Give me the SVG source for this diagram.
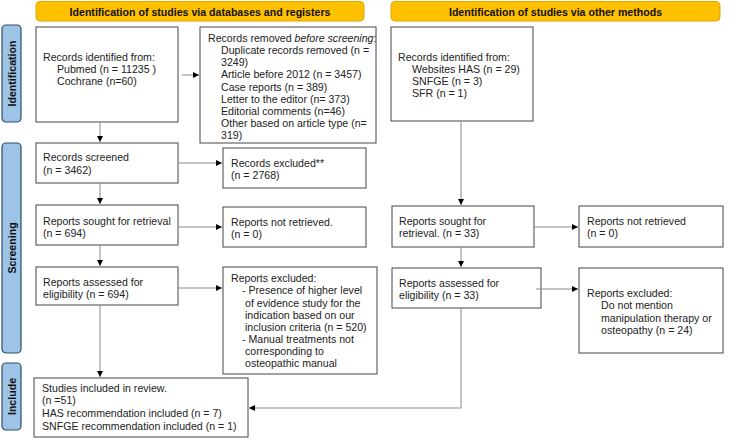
<svg xmlns="http://www.w3.org/2000/svg" width="750" height="440" viewBox="0 0 750 440">
<style>
text{font-family:"Liberation Sans",Arial,sans-serif;font-size:10.6px;fill:#222}
.hdr{fill:#FFC000;stroke:#E3A700;stroke-width:1}
.hdt{font-weight:bold;font-size:10.6px;text-anchor:middle;fill:#111}
.side{fill:#9DC3E6;stroke:#2E4D6B;stroke-width:1.2}
.sdt{font-weight:bold;font-size:10.6px;text-anchor:middle;fill:#111}
.box{fill:#fff;stroke:#444;stroke-width:1}
.con{fill:none;stroke:#8a8a8a;stroke-width:1}
</style>
<defs>
<marker id="ah" markerUnits="userSpaceOnUse" markerWidth="7" markerHeight="7" refX="6" refY="3" orient="auto">
<path d="M0,0 L6,3 L0,6 z" fill="#000"/>
</marker>
</defs>
<rect width="750" height="440" fill="#fff"/>

<g id="header-databases">
<rect class="hdr" x="36" y="1.5" width="328" height="19.5" rx="4"/>
<text class="hdt" x="200" y="16">Identification of studies via databases and registers</text>
</g>
<g id="header-other">
<rect class="hdr" x="391" y="1.5" width="329" height="19.5" rx="4"/>
<text class="hdt" x="555.5" y="16">Identification of studies via other methods</text>
</g>

<g id="side-identification">
<rect class="side" x="2" y="25" width="19" height="97" rx="4"/>
<text class="sdt" transform="translate(15.5,73.5) rotate(-90)">Identification</text>
</g>
<g id="side-screening">
<rect class="side" x="2" y="143" width="19" height="210" rx="4"/>
<text class="sdt" transform="translate(15.5,248) rotate(-90)">Screening</text>
</g>
<g id="side-include">
<rect class="side" x="2" y="363" width="19" height="67" rx="4"/>
<text class="sdt" transform="translate(15.5,396.5) rotate(-90)">Include</text>
</g>

<g id="records-identified">
<rect class="box" x="36" y="27" width="142" height="95"/>
<text x="43" y="61">Records identified from:</text>
<text x="57" y="73">Pubmed (n = 11235 )</text>
<text x="57" y="85">Cochrane (n=60)</text>
</g>

<g id="records-removed">
<rect class="box" x="200" y="27" width="176" height="116"/>
<text x="208" y="42">Records removed <tspan font-style="italic">before screening</tspan>:</text>
<text x="221" y="54">Duplicate records removed (n =</text>
<text x="221" y="66">3249)</text>
<text x="221" y="78">Article before 2012 (n = 3457)</text>
<text x="221" y="90.5">Case reports (n = 389)</text>
<text x="221" y="102.5">Letter to the editor (n= 373)</text>
<text x="221" y="114.5">Editorial comments (n=46)</text>
<text x="221" y="127">Other based on article type (n=</text>
<text x="221" y="139">319)</text>
</g>

<g id="other-identified">
<rect class="box" x="391" y="27" width="142" height="94"/>
<text x="398" y="61">Records identified from:</text>
<text x="412" y="73">Websites HAS (n = 29)</text>
<text x="412" y="85">SNFGE (n = 3)</text>
<text x="412" y="97">SFR (n = 1)</text>
</g>

<g id="records-screened">
<rect class="box" x="36" y="143" width="142" height="40"/>
<text x="43" y="161" font-size="11.6">Records screened</text>
<text x="43" y="173.5" font-size="11.6">(n = 3462)</text>
</g>

<g id="records-excluded">
<rect class="box" x="223" y="148" width="143" height="40"/>
<text x="231" y="167">Records excluded**</text>
<text x="231" y="179">(n = 2768)</text>
</g>

<g id="reports-sought">
<rect class="box" x="36" y="205" width="142" height="40"/>
<text x="43" y="225">Reports sought for retrieval</text>
<text x="43" y="236.5">(n = 694)</text>
</g>

<g id="reports-not-retrieved">
<rect class="box" x="223" y="207" width="143" height="40"/>
<text x="231" y="226">Reports not retrieved.</text>
<text x="231" y="238">(n = 0)</text>
</g>

<g id="reports-assessed">
<rect class="box" x="36" y="267" width="142" height="38"/>
<text x="43" y="286">Reports assessed for</text>
<text x="43" y="298">eligibility (n = 694)</text>
</g>

<g id="reports-excluded">
<rect class="box" x="223" y="267" width="154" height="107"/>
<text x="231" y="282">Reports excluded:</text>
<text x="242" y="294">- Presence of higher level</text>
<text x="245" y="306.5">of evidence study for the</text>
<text x="245" y="318.5">indication based on our</text>
<text x="245" y="330.5">inclusion criteria (n = 520)</text>
<text x="242" y="342.5">- Manual treatments not</text>
<text x="245" y="355">corresponding to</text>
<text x="245" y="367">osteopathic manual</text>
</g>

<g id="studies-included">
<rect class="box" x="34" y="378" width="214" height="59"/>
<text x="42" y="392">Studies included in review.</text>
<text x="42" y="404">(n =51)</text>
<text x="42" y="416.5">HAS recommendation included (n = 7)</text>
<text x="42" y="429.5">SNFGE recommendation included (n = 1)</text>
</g>

<g id="other-sought">
<rect class="box" x="392" y="206" width="142" height="41"/>
<text x="399" y="225">Reports sought for</text>
<text x="399" y="237">retrieval. (n = 33)</text>
</g>

<g id="other-not-retrieved">
<rect class="box" x="579" y="206" width="144" height="41"/>
<text x="587" y="225">Reports not retrieved</text>
<text x="587" y="237">(n = 0)</text>
</g>

<g id="other-assessed">
<rect class="box" x="392" y="268" width="149" height="40"/>
<text x="399" y="287">Reports assessed for</text>
<text x="399" y="299">eligibility (n = 33)</text>
</g>

<g id="other-excluded">
<rect class="box" x="579" y="268" width="144" height="85"/>
<text x="587" y="297">Reports excluded:</text>
<text x="601" y="309">Do not mention</text>
<text x="601" y="322">manipulation therapy or</text>
<text x="601" y="334">osteopathy (n = 24)</text>
</g>

<g id="connectors">
<path class="con" d="M182,75 H199" marker-end="url(#ah)"/>
<path class="con" d="M100,122 V142" marker-end="url(#ah)"/>
<path class="con" d="M178,163 H222" marker-end="url(#ah)"/>
<path class="con" d="M100,183 V204" marker-end="url(#ah)"/>
<path class="con" d="M178,227 H222" marker-end="url(#ah)"/>
<path class="con" d="M100,245 V266" marker-end="url(#ah)"/>
<path class="con" d="M178,288 H222" marker-end="url(#ah)"/>
<path class="con" d="M100,305 V377" marker-end="url(#ah)"/>
<path class="con" d="M461,121 V205" marker-end="url(#ah)"/>
<path class="con" d="M534,227 H578" marker-end="url(#ah)"/>
<path class="con" d="M461,247 V267" marker-end="url(#ah)"/>
<path class="con" d="M536,289 H578" marker-end="url(#ah)"/>
<path class="con" d="M461,308 V408 H249" marker-end="url(#ah)"/>
</g>
</svg>
